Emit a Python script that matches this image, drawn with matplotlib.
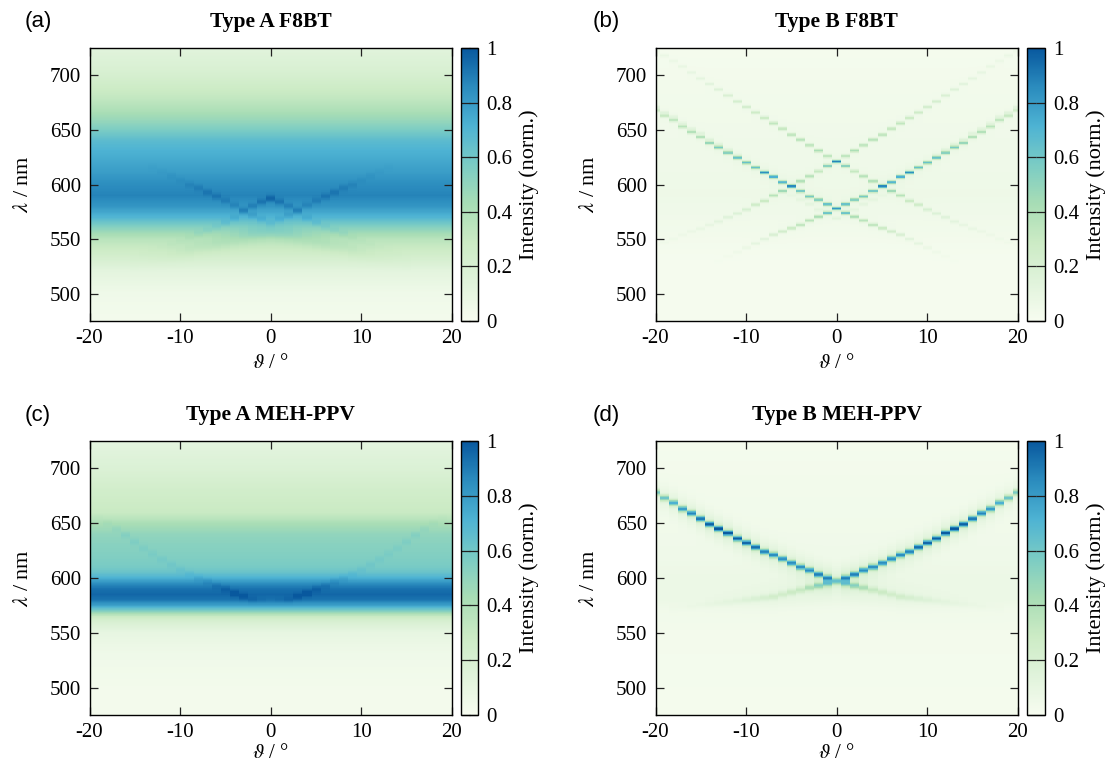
import numpy as np
import matplotlib
matplotlib.use("Agg")
import matplotlib.pyplot as plt
from matplotlib.colors import LinearSegmentedColormap

plt.rcParams['font.family'] = ['Liberation Serif', 'DejaVu Serif']
plt.rcParams['mathtext.fontset'] = 'stix'

W, H = 1105, 764
cmap_colors = ['#f7fcf0', '#e0f3db', '#ccebc5', '#a8ddb5', '#7bccc4', '#4eb3d3', '#2b8cbe', '#08589e']
titles = ['Type A F8BT', 'Type B F8BT', 'Type A MEH-PPV', 'Type B MEH-PPV']
panel_tags = ['(a)', '(b)', '(c)', '(d)']
x_ticks = [-20, -10, 0, 10, 20]
y_ticks = [500, 550, 600, 650, 700]
cb_ticks = [0, 0.2, 0.4, 0.6, 0.8, 1]
cb_labels = ['0', '0.2', '0.4', '0.6', '0.8', '1']

# background spectra (wavelength, intensity)
bg_a_l = [475, 480, 500, 520, 530, 540, 550, 560, 570, 580, 590, 600, 610, 620, 630, 640, 650, 660, 670, 680, 690, 700, 710, 725]
bg_a_v = [.03, .03, .05, .12, .20, .28, .36, .52, .70, .82, .88, .85, .80, .76, .72, .67, .57, .47, .39, .32, .27, .22, .18, .14]
bg_b_l = [475, 530, 550, 590, 650, 700, 725]
bg_b_v = [.015, .015, .03, .06, .045, .03, .02]
bg_c_l = [475, 500, 530, 550, 560, 565, 570, 575, 580, 585, 590, 595, 600, 605, 610, 620, 630, 640, 650, 655, 660, 680, 700, 725]
bg_c_v = [.03, .03, .05, .10, .20, .30, .55, .78, .92, .96, .93, .85, .72, .63, .58, .55, .53, .50, .42, .35, .30, .25, .18, .12]
bg_d_l = [475, 550, 570, 580, 600, 620, 650, 700, 725]
bg_d_v = [.02, .03, .04, .07, .07, .05, .04, .03, .02]

# ridges: wavelength and added intensity at each angle 0..20 deg (mirrored for negative)
a1_l = [587, 584, 580, 576, 569, 565, 561, 558, 555, 551, 548, 545, 542, 539, 536, 533, 530, 527, 524, 521, 518]
a1_v = [.10, .08, .07, .06, .05, .05, .04, .04, .04, .03, .02, .02, .01, .01, .01, 0, 0, 0, 0, 0, 0]
a2_l = [565, 568, 572, 576, 581, 585, 589, 593, 597, 600, 604, 608, 612, 616, 620, 625, 630, 635, 640, 645, 650]
a2_v = [.05, .06, .06, .06, .05, .05, .05, .05, .04, .03, .02, .02, .01, .01, 0, 0, 0, 0, 0, 0, 0]
a3_l = [556, 555, 554, 552, 550, 548, 546, 544, 543, 540, 538, 536, 534, 532, 530, 528, 526, 524, 522, 520, 518]
a3_v = [.08, .08, .08, .07, .06, .06, .06, .05, .05, .05, .04, .03, .02, .015, .01, .01, 0, 0, 0, 0, 0]

b1_l = [578, 582, 586, 589, 594, 598.5, 602, 607, 611, 615.5, 620, 624.5, 629, 634, 638, 643.5, 648, 653, 659, 663, 668]
b1_v = [.72, .60, .50, .50, .55, .85, .60, .70, .75, .55, .55, .55, .50, .50, .45, .35, .35, .30, .30, .25, .20]
b2_l = [578, 574, 570.5, 567, 563, 560, 557, 554, 550, 546, 542, 538, 534, 530, 526, 522, 518, 514, 510, 506, 502]
b2_v = [0, .55, .35, .30, .30, .25, .20, .15, .10, .08, .05, .03, .02, .01, 0, 0, 0, 0, 0, 0, 0]
b3_l = [621, 626, 631, 636, 641, 645.5, 651, 656, 661, 666, 671, 676, 681.5, 687, 692, 697, 702.5, 708, 713, 718, 722]
b3_v = [.80, .30, .35, .30, .30, .30, .28, .28, .25, .22, .20, .18, .15, .12, .10, .08, .07, .06, .05, .05, .03]
b4_l = [621, 617, 612, 607.5, 603, 598.5, 594, 590, 585, 581.5, 577, 573.5, 570, 566, 563, 559.5, 557, 554, 550, 547, 545]
b4_v = [0, .50, .25, .30, .35, 0, .40, .30, .25, .20, .15, .12, .10, .08, .06, .05, .04, .03, .03, .02, .01]
b5_l = [569, 573, 577, 582, 586, 590, 594, 598, 603, 607, 612, 627, 632, 637, 641, 647, 651, 656, 662, 666, 671]
b5_v = [.08, .05, .06, .06, .05, .03, .02, .01, 0, 0, 0, .06, .07, .07, .08, .08, .08, .08, .08, .09, .09]

c1_l = [578, 579, 580, 583, 586, 590, 593, 597, 600, 604, 608, 612, 617, 622, 627, 633, 639, 645, 650, 655, 660]
c1_v = [.01, .02, .04, .06, .07, .05, .04, .04, .04, .03, .03, .03, .03, .03, .03, .04, .04, .03, .02, .01, 0]

d1_l = [598, 600, 603.3, 607, 610, 613.7, 617.4, 621, 624, 628, 632, 636, 641, 645, 649, 654, 659, 663, 668.5, 673, 678]
d1_v = [.30, .65, .70, .68, .70, .70, .70, .72, .72, .78, .82, .82, .86, .86, .82, .78, .73, .68, .62, .52, .48]
d2_l = [596, 595, 593, 591, 589, 587, 585, 583, 582, 581, 580, 579, 578, 577, 576, 575, 574, 573, 572, 571, 570]
d2_v = [.25, .42, .36, .28, .20, .18, .15, .15, .12, .10, .08, .06, .05, .04, .03, .02, .02, .01, .01, 0, 0]

panels = [
    (bg_a_l, bg_a_v, [(a1_l, a1_v, 3.0, 0), (a2_l, a2_v, 3.0, 0), (a3_l, a3_v, 7.0, 0)]),
    (bg_b_l, bg_b_v, [(b1_l, b1_v, 1.5, .05), (b2_l, b2_v, 1.5, .05), (b3_l, b3_v, 1.5, .03), (b4_l, b4_v, 1.5, .03), (b5_l, b5_v, 1.5, 0)]),
    (bg_c_l, bg_c_v, [(c1_l, c1_v, 3.0, 0)]),
    (bg_d_l, bg_d_v, [(d1_l, d1_v, 2.6, .14), (d2_l, d2_v, 2.8, .2)]),
]

cmap = LinearSegmentedColormap.from_list('gb', cmap_colors)
angles = np.arange(-20, 21)
ang_edges = np.arange(-20.5, 21.5, 1)
rows = np.arange(475, 725.5, 0.5)
row_edges = np.append(rows - 0.25, rows[-1] + 0.25)


def build(bg_l, bg_v, ridges):
    z = np.tile(np.interp(rows, bg_l, bg_v)[:, None], (1, angles.size))
    for l, v, w, halo in ridges:
        lam = np.array(l)[np.abs(angles)]
        amp = np.array(v)[np.abs(angles)]
        d = rows[:, None] - lam[None, :]
        z += amp * (np.exp(-(d / w) ** 2) + halo * np.exp(-(d / (4 * w)) ** 2))
    return np.clip(z, 0, 1)


fig = plt.figure(figsize=(W / 100, H / 100), dpi=100)


def rect(x0, x1, y0, y1):
    return [x0 / W, 1 - y1 / H, (x1 - x0) / W, (y1 - y0) / H]


# axes left/right, bar left/right, y-label x, tag x, right-hand label x
x_pos = [(89.5, 452, 460.5, 478, 23, 38, 529), (655.5, 1018, 1027, 1045, 590, 606, 1096)]
# axes top/bottom, title y, tag y, x-label y
y_pos = [(48, 321, 22, 21, 364), (441, 715, 415, 415, 754)]

for i, (bg_l, bg_v, ridges) in enumerate(panels):
    xp = x_pos[i % 2]
    yp = y_pos[i // 2]
    ax = fig.add_axes(rect(xp[0], xp[1], yp[0], yp[1]))
    mesh = ax.pcolormesh(ang_edges, row_edges, build(bg_l, bg_v, ridges), cmap=cmap, vmin=0, vmax=1, shading='flat', rasterized=True)
    ax.set_xlim(-20, 20)
    ax.set_ylim(475, 725)
    ax.set_xticks(x_ticks, [str(t) for t in x_ticks])
    ax.set_yticks(y_ticks, [str(t) for t in y_ticks])
    ax.tick_params(direction='in', length=5.8, width=0.9, top=True, right=True, labelsize=15, pad=6, color='#222222')
    for s in ax.spines.values():
        s.set_linewidth(1.0)
    fig.text((xp[0] + xp[1]) / 2 / W, 1 - yp[2] / H, titles[i], ha='center', va='center', fontsize=15.5, fontweight='bold')
    fig.text(xp[5] / W, 1 - yp[3] / H, panel_tags[i], ha='center', va='center', fontsize=16, family='Liberation Sans')
    fig.text((xp[0] + xp[1]) / 2 / W, 1 - yp[4] / H, r'$\vartheta$ / °', ha='center', va='center', fontsize=15)
    fig.text(xp[4] / W, 1 - (yp[0] + yp[1]) / 2 / H, r'$\lambda$ / nm', ha='center', va='center', rotation=90, fontsize=16)

    cax = fig.add_axes(rect(xp[2], xp[3], yp[0], yp[1]))
    cb = fig.colorbar(mesh, cax=cax)
    cb.set_ticks(cb_ticks, labels=cb_labels)
    cb.ax.tick_params(direction='in', left=True, right=True, length=6.5, width=0.9, labelsize=15, pad=6, color='#222222')
    cb.outline.set_linewidth(1.0)
    fig.text(xp[6] / W, 1 - (yp[0] + yp[1]) / 2 / H, 'Intensity (norm.)', ha='center', va='center', rotation=90, fontsize=16)

fig.savefig('out.png', dpi=100)
